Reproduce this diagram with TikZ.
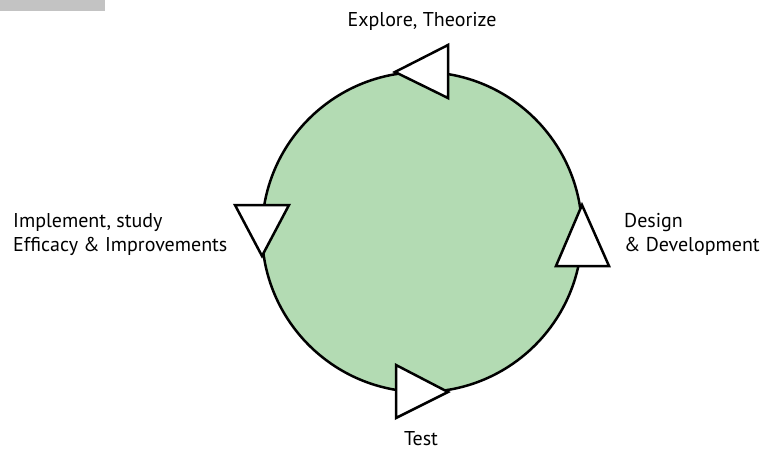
\documentclass[tikz,border=0pt]{standalone}
\usepackage{fontspec}
\setmainfont{PT Sans}
\definecolor{cyclegreen}{RGB}{179,219,179}
\definecolor{bargray}{RGB}{195,195,195}
\begin{document}
\begin{tikzpicture}[x=1pt,y=-1pt,
  ring/.style={draw=black,line width=2.5pt,fill=cyclegreen},
  arrowtri/.style={draw=black,line width=2.5pt,fill=white,line join=miter},
  lab/.style={font=\fontsize{20}{24}\selectfont,inner sep=0pt,anchor=base}]
\useasboundingbox (0,0) rectangle (780,450);
\fill[bargray] (0,0) rectangle (105,11);
\node[circle,ring,minimum size=320pt,inner sep=0pt] (cyc) at (422,232) {};
% triangles (counter-clockwise direction)
\draw[arrowtri] (395,72) -- (448,45) -- (448,98) -- cycle;
\draw[arrowtri] (262,256) -- (235,205) -- (289,205) -- cycle;
\draw[arrowtri] (448,392) -- (396,365) -- (396,418) -- cycle;
\draw[arrowtri] (582,205) -- (556,266) -- (609,266) -- cycle;
\node[lab] (explore) at (422,26) {Explore, Theorize};
\node[lab] (test) at (421,445) {Test};
\node[lab,anchor=base west,align=left] (impl) at (13,251) {Implement, study\\Efficacy \& Improvements};
\node[lab,anchor=base west,align=left] (design) at (624,251) {Design\\\& Development};
\end{tikzpicture}
\end{document}
